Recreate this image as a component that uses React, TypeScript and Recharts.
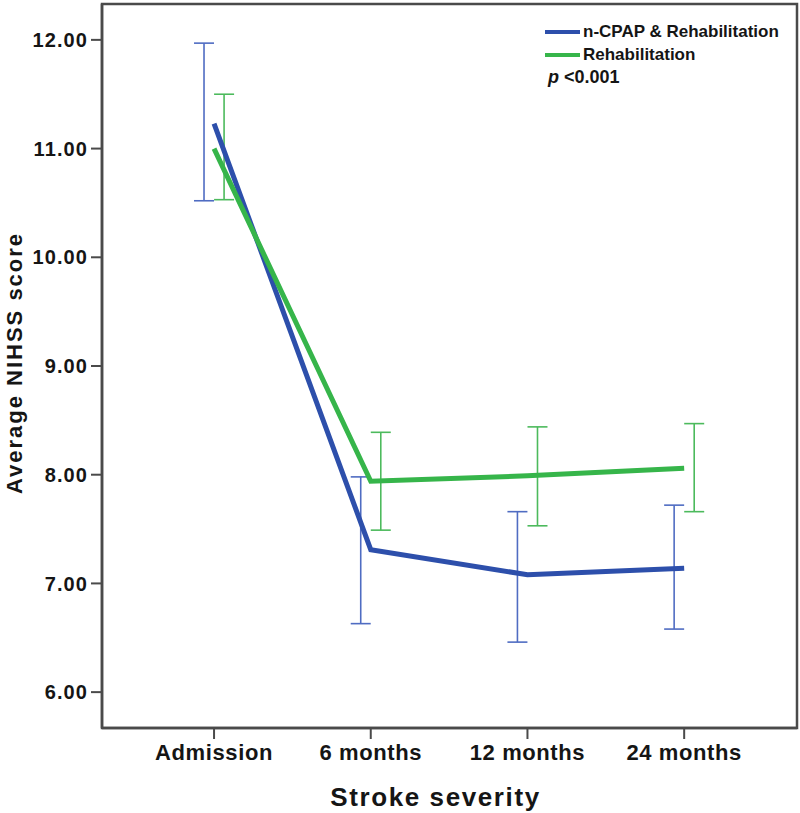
import { ComposedChart, ErrorBar, Legend, Line, ReferenceArea, Scatter, XAxis, YAxis } from "recharts";

const CATEGORIES = ["Admission", "6 months", "12 months", "24 months"];

const CPAP_MEAN = [11.23, 7.31, 7.08, 7.14];
const CPAP_LOW = [10.52, 6.63, 6.46, 6.58];
const CPAP_HIGH = [11.97, 7.98, 7.66, 7.72];

const REHAB_MEAN = [11.0, 7.94, 7.99, 8.06];
const REHAB_LOW = [10.53, 7.49, 7.53, 7.66];
const REHAB_HIGH = [11.5, 8.39, 8.44, 8.47];

const Y_TICKS = [6, 7, 8, 9, 10, 11, 12];
const P_TEXT = "<0.001";

const FONT = '"Liberation Sans", Arial, sans-serif';
const BLUE = "#2d4fab";
const GREEN = "#36b54a";
const BLUE_ERR = "#4f6cc2";
const GREEN_ERR = "#4cba5c";
const FRAME = "#4a4a4a";

// SPSS shifts the CI bars of each cluster a little to either side of the category
const ERR_SHIFT = 0.064;
const X_DOMAIN: [number, number] = [-0.715, 3.72];
const Y_DOMAIN: [number, number] = [5.67, 12.33];

const SERIES = [
  { name: "n-CPAP & Rehabilitation", color: BLUE, errColor: BLUE_ERR, mean: CPAP_MEAN, low: CPAP_LOW, high: CPAP_HIGH, shift: -ERR_SHIFT },
  { name: "Rehabilitation", color: GREEN, errColor: GREEN_ERR, mean: REHAB_MEAN, low: REHAB_LOW, high: REHAB_HIGH, shift: ERR_SHIFT },
];

const lineData = (mean: number[]) => mean.map((y, x) => ({ x, y }));
const errData = (mean: number[], low: number[], high: number[], shift: number) =>
  mean.map((y, i) => ({ x: i + shift, y, err: [y - low[i], high[i] - y] }));

function LegendBox() {
  return (
    <div style={{ fontFamily: FONT, fontWeight: "bold", fontSize: 17, color: "#151515", lineHeight: "23px" }}>
      {SERIES.map((s) => (
        <div key={s.name} style={{ display: "flex", alignItems: "center" }}>
          <span style={{ display: "inline-block", width: 35, height: 4, background: s.color, marginRight: 3 }} />
          {s.name}
        </div>
      ))}
      <div style={{ paddingLeft: 3, fontSize: 18 }}>
        <i>p</i> {P_TEXT}
      </div>
    </div>
  );
}

export default function App() {
  const tickStyle = { fontFamily: FONT, fontWeight: "bold", fill: "#151515" };
  return (
    <div style={{ position: "absolute", left: 0, top: 0, background: "#fff" }}>
      <ComposedChart width={800} height={813} margin={{ top: 4, right: 3, left: 0, bottom: 0 }}>
        <XAxis
          dataKey="x"
          type="number"
          domain={X_DOMAIN}
          allowDataOverflow
          ticks={[0, 1, 2, 3]}
          tickFormatter={(v: number) => CATEGORIES[v] ?? ""}
          height={85}
          tickSize={11}
          tickMargin={5}
          tick={{ ...tickStyle, fontSize: 22, letterSpacing: 0.6 }}
          axisLine={{ stroke: FRAME, strokeWidth: 2.5 }}
          tickLine={{ stroke: FRAME, strokeWidth: 2 }}
          label={{
            value: "Stroke severity",
            position: "insideBottom",
            offset: 7,
            dx: -14,
            style: { fontFamily: FONT, fontWeight: "bold", fontSize: 26, fill: "#151515", letterSpacing: 1.6 },
          }}
        />
        <YAxis
          type="number"
          domain={Y_DOMAIN}
          allowDataOverflow
          ticks={Y_TICKS}
          tickFormatter={(v: number) => v.toFixed(2)}
          width={102}
          tickSize={11}
          tickMargin={3}
          tick={{ ...tickStyle, fontSize: 20, letterSpacing: 1.1 }}
          axisLine={{ stroke: FRAME, strokeWidth: 2.5 }}
          tickLine={{ stroke: FRAME, strokeWidth: 2 }}
          label={{
            value: "Average NIHSS score",
            angle: -90,
            position: "insideLeft",
            offset: 14,
            dy: -3,
            style: { textAnchor: "middle", fontFamily: FONT, fontWeight: "bold", fontSize: 22, fill: "#151515", letterSpacing: 2 },
          }}
        />
        <ReferenceArea
          x1={X_DOMAIN[0]}
          x2={X_DOMAIN[1]}
          y1={Y_DOMAIN[0]}
          y2={Y_DOMAIN[1]}
          fill="none"
          fillOpacity={0}
          stroke={FRAME}
          strokeWidth={2.5}
        />
        {SERIES.map((s) => (
          <Scatter
            key={s.name + "-err"}
            data={errData(s.mean, s.low, s.high, s.shift)}
            dataKey="y"
            shape={() => <g />}
            legendType="none"
            isAnimationActive={false}
          >
            <ErrorBar dataKey="err" direction="y" width={10} stroke={s.errColor} strokeWidth={1.6} isAnimationActive={false} />
          </Scatter>
        ))}
        {SERIES.map((s) => (
          <Line
            key={s.name}
            data={lineData(s.mean)}
            dataKey="y"
            name={s.name}
            stroke={s.color}
            strokeWidth={5}
            dot={false}
            activeDot={false}
            isAnimationActive={false}
          />
        ))}
        <Legend
          layout="vertical"
          align="center"
          verticalAlign="middle"
          content={() => <LegendBox />}
          wrapperStyle={{ top: 20, left: 545, width: 250 }}
        />
      </ComposedChart>
    </div>
  );
}
